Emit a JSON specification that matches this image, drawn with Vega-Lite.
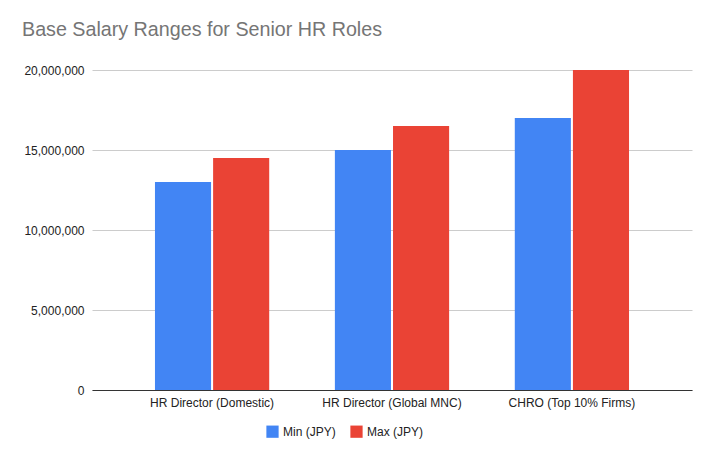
{
  "$schema": "https://vega.github.io/schema/vega-lite/v6.json",
  "width": 600,
  "height": 320,
  "autosize": "none",
  "padding": {"left": 92, "top": 70, "right": 23, "bottom": 72},
  "background": "white",
  "title": {
    "text": "Base Salary Ranges for Senior HR Roles",
    "anchor": "start",
    "frame": "group",
    "dx": -70,
    "offset": 24,
    "font": "Liberation Sans",
    "fontSize": 19.7,
    "fontWeight": "normal",
    "color": "#757575"
  },
  "data": {
    "values": [
      {"role": "HR Director (Domestic)", "series": "Min (JPY)", "value": 13000000},
      {"role": "HR Director (Domestic)", "series": "Max (JPY)", "value": 14500000},
      {"role": "HR Director (Global MNC)", "series": "Min (JPY)", "value": 15000000},
      {"role": "HR Director (Global MNC)", "series": "Max (JPY)", "value": 16500000},
      {"role": "CHRO (Top 10% Firms)", "series": "Min (JPY)", "value": 17000000},
      {"role": "CHRO (Top 10% Firms)", "series": "Max (JPY)", "value": 20000000}
    ]
  },
  "mark": {"type": "bar"},
  "encoding": {
    "x": {
      "field": "role",
      "type": "nominal",
      "sort": null,
      "scale": {"paddingInner": 0.365, "paddingOuter": 0.35},
      "axis": {
        "title": null,
        "labelAngle": 0,
        "ticks": false,
        "domainColor": "#333333",
        "labelPadding": 7,
        "labelFontSize": 12,
        "labelColor": "#222222"
      }
    },
    "xOffset": {
      "field": "series",
      "type": "nominal",
      "sort": ["Min (JPY)", "Max (JPY)"],
      "scale": {"paddingInner": 0.035}
    },
    "y": {
      "field": "value",
      "type": "quantitative",
      "scale": {"domain": [0, 20000000]},
      "axis": {
        "title": null,
        "values": [0, 5000000, 10000000, 15000000, 20000000],
        "format": ",d",
        "domain": false,
        "ticks": false,
        "gridColor": "#cccccc",
        "labelPadding": 8,
        "labelFontSize": 12,
        "labelColor": "#222222"
      }
    },
    "color": {
      "field": "series",
      "type": "nominal",
      "scale": {"domain": ["Min (JPY)", "Max (JPY)"], "range": ["#4285F4", "#EA4335"]},
      "legend": {
        "title": null,
        "orient": "none",
        "direction": "horizontal",
        "legendX": 174,
        "legendY": 355,
        "symbolType": "square",
        "symbolSize": 150,
        "symbolStrokeWidth": 0,
        "labelFontSize": 12,
        "labelColor": "#222222",
        "columnPadding": 14
      }
    }
  },
  "config": {
    "view": {"stroke": null},
    "font": "Liberation Sans"
  }
}
